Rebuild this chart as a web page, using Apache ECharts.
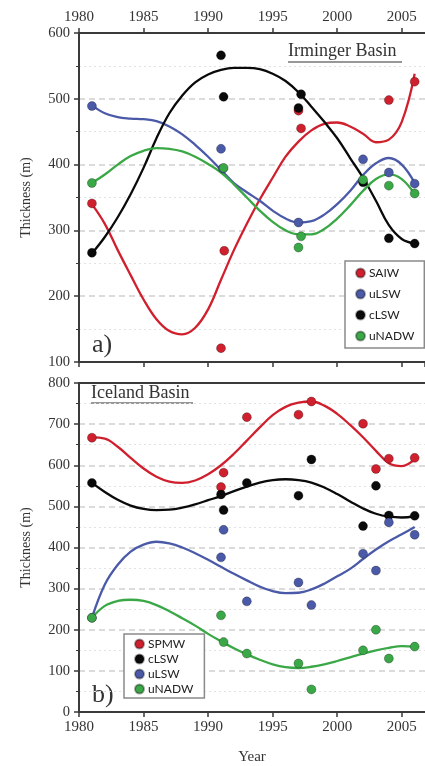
<!DOCTYPE html>
<html>
<head>
<meta charset="utf-8">
<script src="https://cdn.jsdelivr.net/npm/echarts@6/dist/echarts.min.js"></script>
<style>
  html, body { margin: 0; padding: 0; background: #fff; }
  #chart { width: 425px; height: 766px; }
</style>
</head>
<body>
<div id="chart"></div>
<script>
  // tick labels
  var xTicks = [1980, 1985, 1990, 1995, 2000, 2005]
  var fitYears = [1981, 1982, 1983, 1984, 1985, 1986, 1987, 1988, 1989, 1990, 1991, 1992, 1993,
    1994, 1995, 1996, 1997, 1998, 1999, 2000, 2001, 2002, 2003, 2004, 2005, 2006]

  // a) Irminger Basin - observations [year, thickness]
  var irmSAIW = [[1981, 341], [1991, 121], [1991.25, 269], [1997, 482], [1997.2, 455], [2004, 498], [2006, 526]]
  var irmULSW = [[1981, 489], [1991, 424], [1991.15, 394], [1997, 312], [2002, 408], [2004, 388], [2006, 371]]
  var irmCLSW = [[1981, 266], [1991, 566], [1991.2, 503], [1997, 486], [1997.2, 507], [2002, 373], [2004, 288], [2006, 280]]
  var irmUNADW = [[1981, 372], [1991.2, 395], [1997, 274], [1997.2, 291], [2002, 377], [2004, 368], [2006, 356]]

  // a) fitted curves, one value per fitYears
  var irmSAIWFit = [340, 310, 270, 232, 195, 165, 147, 142, 152, 180, 225, 270, 310,
    347, 380, 412, 435, 452, 462, 464, 458, 447, 434, 438, 465, 538]
  var irmULSWFit = [490, 478, 472, 470, 469, 466, 458, 446, 430, 412, 392, 372, 358,
    345, 330, 318, 312, 314, 324, 340, 360, 384, 402, 410, 400, 372]
  var irmCLSWFit = [265, 290, 320, 355, 395, 440, 478, 505, 525, 537, 544, 547, 547,
    545, 538, 527, 510, 488, 465, 440, 410, 380, 345, 308, 287, 280]
  var irmUNADWFit = [372, 385, 400, 413, 421, 425, 424, 420, 412, 401, 388, 370, 350,
    330, 313, 300, 294, 294, 302, 318, 338, 360, 378, 385, 378, 355]

  // b) Iceland Basin - observations
  var iceSPMW = [[1981, 667], [1991, 547], [1991.2, 582], [1993, 717], [1997, 723], [1998, 755], [2002, 701], [2003, 591], [2004, 616], [2006, 618]]
  var iceCLSW = [[1981, 557], [1991, 529], [1991.2, 491], [1993, 557], [1997, 526], [1998, 614], [2002, 452], [2003, 550], [2004, 478], [2006, 477]]
  var iceULSW = [[1981, 229], [1991, 376], [1991.2, 443], [1993, 269], [1997, 315], [1998, 260], [2002, 385], [2003, 344], [2004, 461], [2006, 431]]
  var iceUNADW = [[1981, 229], [1991, 235], [1991.2, 170], [1993, 142], [1997, 118], [1998, 55], [2002, 150], [2003, 200], [2004, 130], [2006, 159]]

  // b) fitted curves
  var iceSPMWFit = [668, 665, 645, 618, 592, 572, 560, 557, 563, 578, 600, 628, 660,
    692, 722, 742, 752, 755, 745, 725, 698, 668, 635, 605, 598, 615]
  var iceCLSWFit = [557, 535, 516, 502, 494, 491, 492, 497, 505, 515, 525, 537, 548,
    558, 564, 566, 564, 558, 546, 530, 512, 495, 482, 475, 473, 476]
  var iceULSWFit = [229, 310, 358, 390, 407, 414, 410, 400, 386, 370, 353, 336, 320,
    305, 294, 289, 290, 298, 312, 330, 348, 372, 395, 415, 432, 450]
  var iceUNADWFit = [229, 258, 270, 273, 270, 260, 245, 228, 210, 190, 172, 155, 140,
    127, 116, 109, 107, 110, 116, 124, 133, 142, 150, 156, 160, 159]

  var colors = {
    red: '#d0202e',
    blue: '#4b5aa8',
    black: '#0a0a0a',
    green: '#3aa846'
  }
  var serif = "'Liberation Serif', 'DejaVu Serif', serif"
  var axisColor = '#3a3a3a'

  function pairs(ys) {
    return fitYears.map(function (y, i) { return [y, ys[i]] })
  }

  function xAxisCfg(grid, pos, labels, extra) {
    return {
      type: 'value',
      gridIndex: grid,
      position: pos,
      min: 1980,
      max: 2006.8,
      interval: 5,
      axisLine: { show: true, onZero: false, lineStyle: { color: axisColor, width: 2 } },
      axisTick: { show: extra !== 'lineOnly', length: 5, lineStyle: { color: axisColor, width: 1.5 } },
      axisLabel: {
        show: labels,
        showMaxLabel: false,
        color: '#333',
        fontFamily: serif,
        fontSize: 15,
        margin: 8,
        formatter: function (v) { return xTicks.indexOf(v) >= 0 ? String(v) : '' }
      },
      splitLine: { show: false }
    }
  }

  function yAxisCfg(grid, min, max) {
    return {
      type: 'value',
      gridIndex: grid,
      min: min,
      max: max,
      interval: 100,
      name: 'Thickness (m)',
      nameLocation: 'middle',
      nameRotate: 90,
      nameGap: 46,
      nameTextStyle: { color: '#333', fontFamily: serif, fontSize: 14 },
      axisLine: { show: true, onZero: false, lineStyle: { color: axisColor, width: 2 } },
      axisTick: { show: true, length: 5, lineStyle: { color: axisColor, width: 1.5 } },
      minorTick: { show: true, splitNumber: 2, length: 3, lineStyle: { color: axisColor } },
      axisLabel: { color: '#333', fontFamily: serif, fontSize: 14.5, margin: 9 },
      splitLine: { show: true, lineStyle: { color: '#cfcfcf', width: 1.5, type: [6, 4] } },
      minorSplitLine: { show: true, lineStyle: { color: '#e2e2e2', width: 1.2, type: [2, 3] } }
    }
  }

  function dots(name, data, color, xi, yi) {
    return {
      name: name,
      type: 'scatter',
      xAxisIndex: xi,
      yAxisIndex: yi,
      data: data,
      symbol: 'circle',
      symbolSize: 9,
      z: 5,
      itemStyle: { color: color, opacity: 1, borderColor: 'rgba(0,0,0,0.35)', borderWidth: 0.8 }
    }
  }

  function fit(data, color, xi, yi) {
    return {
      type: 'line',
      xAxisIndex: xi,
      yAxisIndex: yi,
      data: pairs(data),
      smooth: 0.4,
      symbol: 'none',
      silent: true,
      z: 3,
      lineStyle: { color: color, width: 2.3 }
    }
  }

  function legendCfg(names, left, top, gap, pad) {
    return {
      data: names,
      orient: 'vertical',
      left: left,
      top: top,
      icon: 'circle',
      itemWidth: 9,
      itemHeight: 9,
      itemGap: gap,
      padding: pad,
      borderColor: '#8a8a8a',
      borderWidth: 1.5,
      backgroundColor: '#fff',
      selectedMode: false,
      textStyle: { color: '#222', fontFamily: 'Lato, sans-serif', fontSize: 12, padding: [0, 0, 0, -1] }
    }
  }

  var chart = echarts.init(document.getElementById('chart'), null, { renderer: 'canvas' })
  chart.setOption({
    animation: false,
    backgroundColor: '#fff',
    grid: [
      { left: 79, top: 33, right: 0, height: 329 },
      { left: 79, top: 383, right: 0, height: 330 }
    ],
    xAxis: [
      xAxisCfg(0, 'top', true),
      xAxisCfg(0, 'bottom', false),
      Object.assign(xAxisCfg(1, 'bottom', true), {
        name: 'Year',
        nameLocation: 'middle',
        nameGap: 38,
        nameTextStyle: { color: '#333', fontFamily: serif, fontSize: 15 }
      }),
      xAxisCfg(1, 'top', false, 'lineOnly')
    ],
    yAxis: [
      yAxisCfg(0, 100, 600),
      yAxisCfg(1, 0, 800)
    ],
    legend: [
      legendCfg(['SAIW', 'uLSW', 'cLSW', 'uNADW'], 345, 261, 9, [6, 10, 6, 10]),
      legendCfg(['SPMW', 'cLSW ', 'uLSW ', 'uNADW '], 124, 634, 3, [4, 8, 3, 10])
    ],
    graphic: [
      { type: 'text', left: 288, top: 42, style: { text: 'Irminger Basin', font: '18px ' + serif, fill: '#333' } },
      { type: 'line', shape: { x1: 288, y1: 62, x2: 402, y2: 62 }, style: { stroke: '#333', lineWidth: 1.2 } },
      { type: 'text', left: 91, top: 384, style: { text: 'Iceland Basin', font: '18px ' + serif, fill: '#333' } },
      { type: 'line', shape: { x1: 91, y1: 403, x2: 193, y2: 403 }, style: { stroke: '#333', lineWidth: 1.2 } },
      { type: 'text', left: 92, top: 332, style: { text: 'a)', font: '26px ' + serif, fill: '#333' } },
      { type: 'text', left: 92, top: 682, style: { text: 'b)', font: '26px ' + serif, fill: '#333' } }
    ],
    series: [
      fit(irmSAIWFit, colors.red, 0, 0),
      fit(irmULSWFit, colors.blue, 0, 0),
      fit(irmCLSWFit, colors.black, 0, 0),
      fit(irmUNADWFit, colors.green, 0, 0),
      dots('SAIW', irmSAIW, colors.red, 0, 0),
      dots('uLSW', irmULSW, colors.blue, 0, 0),
      dots('cLSW', irmCLSW, colors.black, 0, 0),
      dots('uNADW', irmUNADW, colors.green, 0, 0),

      fit(iceSPMWFit, colors.red, 2, 1),
      fit(iceCLSWFit, colors.black, 2, 1),
      fit(iceULSWFit, colors.blue, 2, 1),
      fit(iceUNADWFit, colors.green, 2, 1),
      dots('SPMW', iceSPMW, colors.red, 2, 1),
      dots('cLSW ', iceCLSW, colors.black, 2, 1),
      dots('uLSW ', iceULSW, colors.blue, 2, 1),
      dots('uNADW ', iceUNADW, colors.green, 2, 1)
    ]
  })
</script>
</body>
</html>
